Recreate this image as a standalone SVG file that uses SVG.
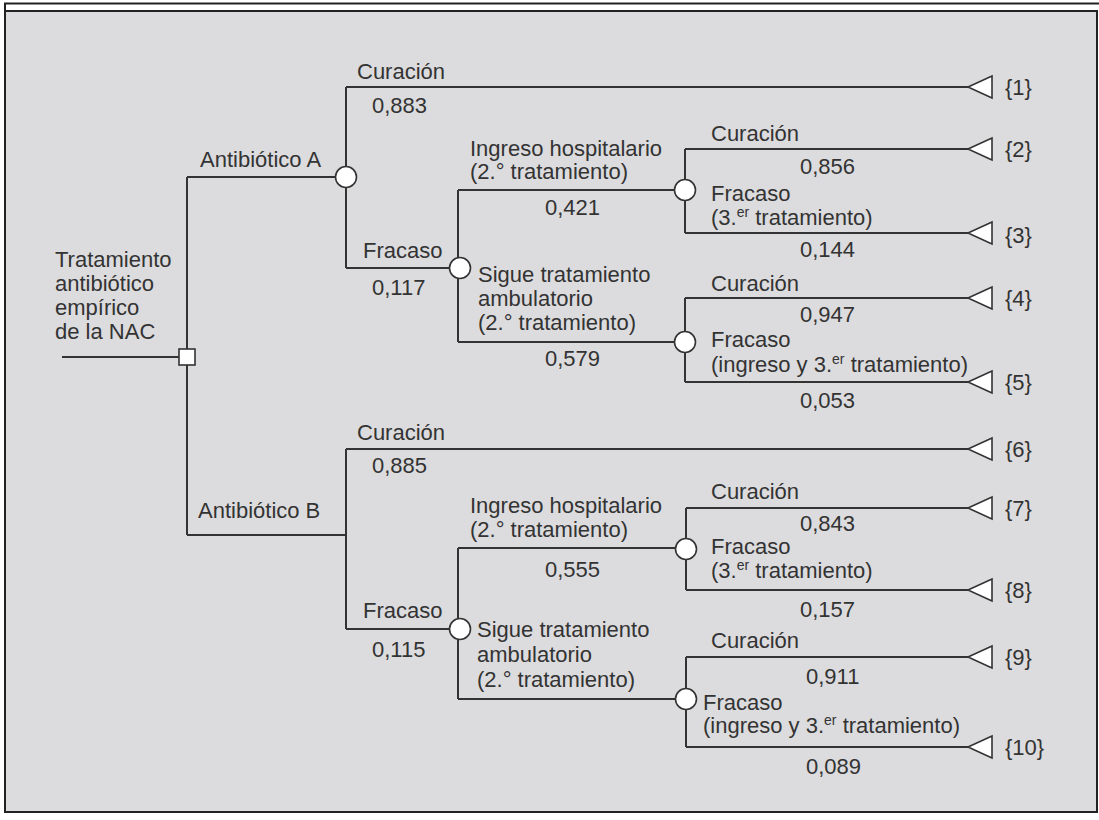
<svg xmlns="http://www.w3.org/2000/svg" width="1099" height="820" viewBox="0 0 1099 820">
<style>
text{font-family:"Liberation Sans",Arial,sans-serif;font-size:22px;fill:#333}
.ln{stroke:#333;stroke-width:2;fill:none}
.ch{fill:#fff;stroke:#333;stroke-width:1.6}
.tri{fill:#fff;stroke:#333;stroke-width:1.6}
.sup{font-size:14px}
</style>
<defs>
<polygon id="term" class="tri" points="0,0 24,-11 24,11"/>
<circle id="chance" class="ch" r="10.5"/>
</defs>
<rect x="0" y="0" width="1099" height="820" fill="#fff"/>
<rect x="5" y="11" width="1092" height="801" fill="#dcdcde" stroke="#222" stroke-width="2"/>
<line x1="4" y1="3.5" x2="1099" y2="3.5" stroke="#222" stroke-width="2"/>
<line x1="5" y1="3" x2="5" y2="12" stroke="#222" stroke-width="2"/>

<g id="connectors">
<path class="ln" d="M62,357 H187 M187,177 V535 M187,177 H346 M187,535 H346"/>
<path class="ln" d="M346,87 V268 M346,87 H968 M346,268 H460"/>
<path class="ln" d="M458,190 V342 M458,190 H685 M458,342 H685"/>
<path class="ln" d="M685,149 V233 M685,149 H968 M685,233 H968"/>
<path class="ln" d="M685,298 V382 M685,298 H968 M685,382 H968"/>
<path class="ln" d="M346,449 V629 M346,449 H968 M346,629 H460"/>
<path class="ln" d="M458,548 V699 M458,548 H686 M458,699 H686"/>
<path class="ln" d="M686,508 V590 M686,508 H968 M686,590 H968"/>
<path class="ln" d="M686,657 V747 M686,657 H968 M686,747 H968"/>
</g>

<g id="root">
<rect x="179" y="349" width="16" height="16" fill="#fff" stroke="#333" stroke-width="1.6"/>
<text x="55" y="267">Tratamiento</text>
<text x="55" y="291">antibiótico</text>
<text x="55" y="315">empírico</text>
<text x="55" y="339">de la NAC</text>
</g>

<g id="antibioticoA">
<use href="#chance" x="346" y="177"/>
<text x="200" y="167">Antibiótico A</text>
</g>
<g id="antibioticoB">
<text x="198" y="518">Antibiótico B</text>
</g>

<g id="A-curacion">
<text x="357" y="79">Curación</text>
<text x="372" y="113">0,883</text>
<use href="#term" x="968" y="87"/>
<text x="1005" y="95">{1}</text>
</g>

<g id="A-fracaso">
<use href="#chance" x="460" y="268"/>
<text x="363" y="258">Fracaso</text>
<text x="372" y="295">0,117</text>
</g>

<g id="A-ingreso">
<use href="#chance" x="685" y="190"/>
<text x="470" y="156">Ingreso hospitalario</text>
<text x="470" y="179">(2.° tratamiento)</text>
<text x="545" y="215">0,421</text>
</g>

<g id="A-sigue">
<use href="#chance" x="685" y="342"/>
<text x="478" y="282">Sigue tratamiento</text>
<text x="478" y="306">ambulatorio</text>
<text x="478" y="330">(2.° tratamiento)</text>
<text x="545" y="366">0,579</text>
</g>

<g id="out2">
<text x="711" y="141">Curación</text>
<text x="800" y="174">0,856</text>
<use href="#term" x="968" y="149"/>
<text x="1005" y="157">{2}</text>
</g>
<g id="out3">
<text x="711" y="201">Fracaso</text>
<text x="711" y="225">(3.<tspan class="sup" dy="-8">er</tspan><tspan dy="8"> tratamiento)</tspan></text>
<text x="800" y="257">0,144</text>
<use href="#term" x="968" y="233"/>
<text x="1005" y="243">{3}</text>
</g>
<g id="out4">
<text x="711" y="291">Curación</text>
<text x="800" y="322">0,947</text>
<use href="#term" x="968" y="298"/>
<text x="1005" y="306">{4}</text>
</g>
<g id="out5">
<text x="711" y="347">Fracaso</text>
<text x="711" y="372">(ingreso y 3.<tspan class="sup" dy="-8">er</tspan><tspan dy="8"> tratamiento)</tspan></text>
<text x="800" y="408">0,053</text>
<use href="#term" x="968" y="382"/>
<text x="1005" y="390">{5}</text>
</g>

<g id="B-curacion">
<text x="357" y="440">Curación</text>
<text x="372" y="473">0,885</text>
<use href="#term" x="968" y="449"/>
<text x="1005" y="457">{6}</text>
</g>

<g id="B-fracaso">
<use href="#chance" x="460" y="629"/>
<text x="363" y="618">Fracaso</text>
<text x="372" y="657">0,115</text>
</g>

<g id="B-ingreso">
<use href="#chance" x="686" y="549"/>
<text x="470" y="513">Ingreso hospitalario</text>
<text x="470" y="537">(2.° tratamiento)</text>
<text x="545" y="577">0,555</text>
</g>

<g id="B-sigue">
<use href="#chance" x="686" y="699"/>
<text x="477" y="637">Sigue tratamiento</text>
<text x="477" y="662">ambulatorio</text>
<text x="477" y="687">(2.° tratamiento)</text>
</g>

<g id="out7">
<text x="711" y="499">Curación</text>
<text x="800" y="531">0,843</text>
<use href="#term" x="968" y="508"/>
<text x="1005" y="516">{7}</text>
</g>
<g id="out8">
<text x="711" y="554">Fracaso</text>
<text x="711" y="578">(3.<tspan class="sup" dy="-8">er</tspan><tspan dy="8"> tratamiento)</tspan></text>
<text x="800" y="617">0,157</text>
<use href="#term" x="968" y="590"/>
<text x="1005" y="598">{8}</text>
</g>
<g id="out9">
<text x="711" y="648">Curación</text>
<text x="806" y="684">0,911</text>
<use href="#term" x="968" y="657"/>
<text x="1005" y="665">{9}</text>
</g>
<g id="out10">
<text x="703" y="710">Fracaso</text>
<text x="703" y="733">(ingreso y 3.<tspan class="sup" dy="-8">er</tspan><tspan dy="8"> tratamiento)</tspan></text>
<text x="806" y="774">0,089</text>
<use href="#term" x="968" y="747"/>
<text x="1005" y="755">{10}</text>
</g>
</svg>
